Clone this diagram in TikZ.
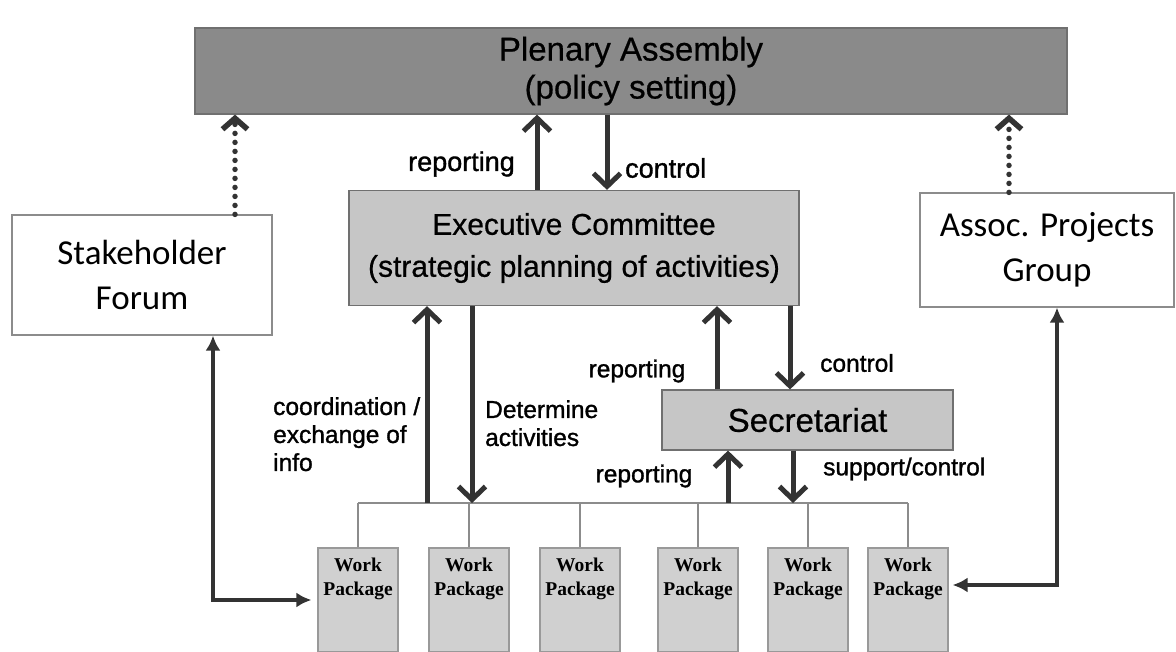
\documentclass[tikz,border=0pt]{standalone}
\usepackage{fontspec}
\setmainfont{Liberation Sans}[FakeBold=0.6]
\newfontfamily\labelfont{Liberation Sans}[FakeBold=1.2]
\newfontfamily\calibrifont{Carlito}
\newfontfamily\wpserif{Liberation Serif}
\usetikzlibrary{arrows.meta}
\definecolor{darkbox}{HTML}{8A8A8A}
\definecolor{lightbox}{HTML}{C6C6C6}
\definecolor{wpbox}{HTML}{D0D0D0}
\definecolor{edge}{HTML}{707070}
\definecolor{ink}{HTML}{333333}
\begin{document}
\begin{tikzpicture}[x=1pt,y=-1pt,
  gbox/.style={draw=edge, line width=1.2pt, align=center, inner sep=0pt},
  plen/.style={gbox, fill=darkbox, minimum width=872pt, minimum height=86pt,
    font=\fontsize{33}{38}\selectfont},
  exec/.style={gbox, fill=lightbox, minimum width=450pt, minimum height=115pt,
    font=\fontsize{30}{42}\selectfont},
  secr/.style={gbox, fill=lightbox, minimum width=291pt, minimum height=60pt,
    font=\fontsize{33}{36}\selectfont},
  side/.style={gbox, fill=white, draw=black!45, font=\calibrifont\fontsize{35}{45}\selectfont},
  wp/.style={gbox, fill=wpbox, draw=black!40, minimum width=80pt, minimum height=104pt},
  wptext/.style={anchor=north, align=center, inner sep=0pt,
    font=\wpserif\bfseries\fontsize{19.5}{24}\selectfont},
  lbl/.style={inner sep=0pt, align=left, font=\labelfont\fontsize{24.5}{28}\selectfont},
  biglbl/.style={lbl, font=\labelfont\fontsize{27}{30}\selectfont},
  arr/.style={draw=ink, line width=5pt, -{Straight Barb[length=13pt,width=27pt]}},
  dotarr/.style={draw=ink, line width=5.5pt, dash pattern=on 0pt off 9pt, line cap=round,
    -{Straight Barb[length=11pt,width=25pt]}},
  dbl/.style={draw=ink, line width=4pt, {Latex[length=15pt,width=15pt]}-{Latex[length=15pt,width=15pt]}},
  thin/.style={draw=black!45, line width=1.3pt}
]
\useasboundingbox (0,0) rectangle (1176,652);

% main boxes
\node[plen] (pa) at (631,71) {Plenary Assembly\\(policy setting)};
\node[exec] (ex) at (574,248) {Executive Committee\\(strategic planning of activities)};
\node[secr] (sec) at (807.5,420) {Secretariat};
\node[side, minimum width=260pt, minimum height=120pt] (sf) at (142,275) {Stakeholder\\Forum};
\node[side, minimum width=254pt, minimum height=114pt] (ap) at (1047,250) {Assoc. Projects\\Group};

% work packages
\foreach \i/\x in {1/358,2/469,3/580,4/698,5/808,6/908}{
  \node[wp] (w\i) at (\x,600) {};
  \node[wptext] (t\i) at ([yshift=-10pt]w\i.north) {Work\\Package};
}

% distribution line to the work packages
\coordinate (bus) at (0,503);
\draw[thin] (w1.north |- bus) -- (w6.north |- bus);
\foreach \i in {1,...,6}{
  \draw[thin] (w\i.north) -- (w\i.north |- bus);
}

% plenary <-> executive committee
\draw[arr] ([xshift=-37pt]ex.north) -- ([xshift=-37pt]ex.north |- pa.south);
\draw[arr] ([xshift=33pt]ex.north |- pa.south) -- ([xshift=33pt]ex.north);
\node[biglbl, anchor=east] (r1) at (515,164) {reporting};
\node[biglbl, anchor=west] (c1) at (625,168) {control};

% executive committee <-> secretariat
\draw[arr] ([xshift=-90.5pt]sec.north) -- ([xshift=-90.5pt]sec.north |- ex.south);
\draw[arr] ([xshift=-17.5pt]sec.north |- ex.south) -- ([xshift=-17.5pt]sec.north);
\node[lbl] (r2) at (637,371) {reporting};
\node[lbl] (c2) at (857,363) {control};

% secretariat <-> work packages
\draw[arr] ([xshift=-79.5pt]sec.south |- bus) -- ([xshift=-79.5pt]sec.south);
\draw[arr] ([xshift=-14.5pt]sec.south) -- ([xshift=-14.5pt]sec.south |- bus);
\node[lbl] (r3) at (644,476) {reporting};
\node[lbl, anchor=west] (s3) at (823,469) {support/control};

% executive committee <-> work packages
\draw[arr] ([xshift=-147pt]ex.south |- bus) -- ([xshift=-147pt]ex.south);
\draw[arr] ([xshift=-102pt]ex.south) -- ([xshift=-102pt]ex.south |- bus);
\node[lbl, anchor=north west] (cx) at (273,397) {coordination /\\exchange of\\info};
\node[lbl, anchor=north west] (da) at (485,400) {Determine\\activities};

% advisory groups
\draw[dotarr] ([xshift=93pt]sf.north) -- ([xshift=93pt]sf.north |- pa.south);
\draw[dotarr] ([xshift=-38pt]ap.north) -- ([xshift=-38pt]ap.north |- pa.south);
\draw[dbl, shorten >=6pt] ([xshift=71pt]sf.south) |- (w1.west);
\draw[dbl, shorten >=4pt] ([xshift=10pt]ap.south) |- ([yshift=15pt]w6.east);
\end{tikzpicture}
\end{document}
